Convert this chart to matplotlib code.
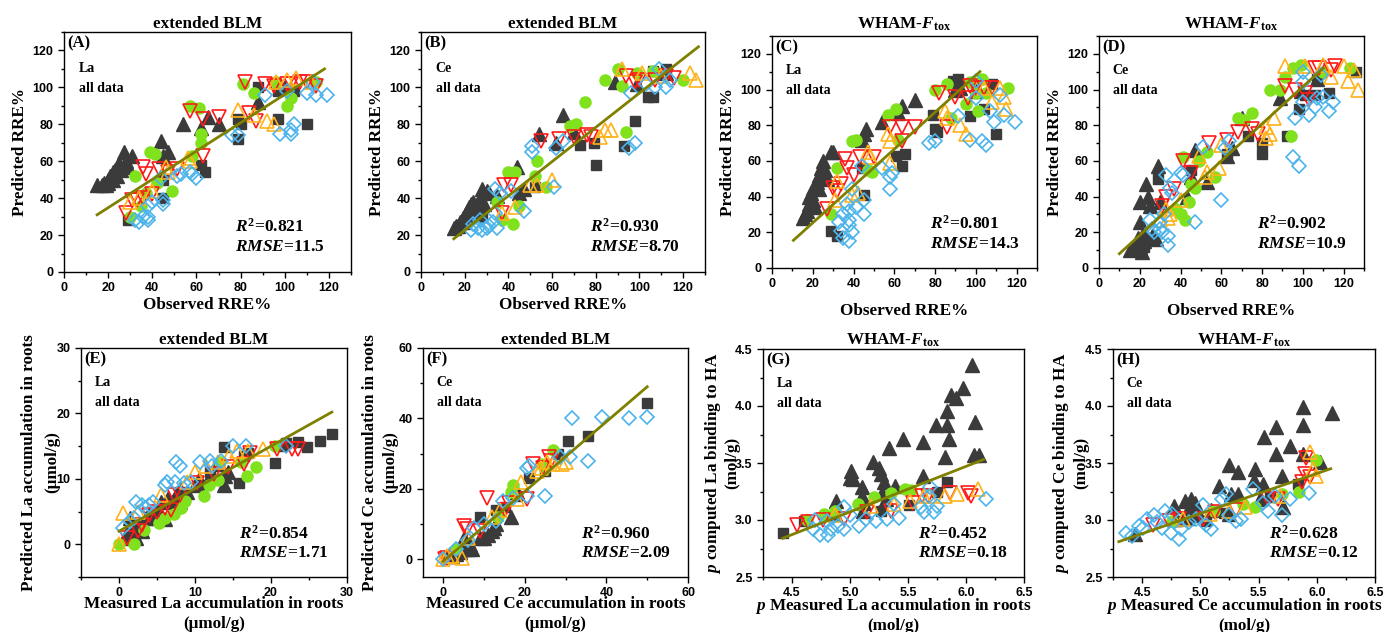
import matplotlib
matplotlib.use("Agg")
import matplotlib.pyplot as plt
from matplotlib.ticker import MultipleLocator

plt.rcParams['font.family'] = 'Liberation Sans'
plt.rcParams['font.weight'] = 'bold'
plt.rcParams['mathtext.fontset'] = 'custom'
plt.rcParams['mathtext.rm'] = 'Liberation Serif:bold'
plt.rcParams['mathtext.it'] = 'Liberation Serif:italic:bold'
plt.rcParams['mathtext.bf'] = 'Liberation Serif:bold'

SERIF = 'Liberation Serif'

# ---- (A) La, extended BLM, RRE% ----
a_sq = [(29, 28), (45, 50), (45, 40), (62, 58), (64, 54), (79, 83), (80, 80), (79, 72), (97, 83),
        (110, 80), (88, 100), (97, 98), (104, 98), (101, 99)]
a_tri = [(15, 47), (17, 47), (18, 48), (19, 47), (20, 50), (21, 52), (22, 54), (23, 55), (24, 57),
         (25, 59), (27, 65), (28, 60), (29, 57), (31, 63), (26, 55), (22, 50), (24, 52), (20, 48),
         (44, 71), (45, 63), (47, 65), (54, 80), (62, 78), (65, 84), (70, 80), (88, 92), (100, 100)]
a_circ = [(30, 30), (32, 52), (35, 36), (39, 65), (41, 64), (42, 48), (49, 44), (57, 90), (61, 89),
          (62, 75), (62, 70), (58, 63), (81, 102), (86, 97), (96, 103), (101, 90), (103, 94),
          (114, 103), (37, 43)]
a_down = [(28, 32), (31, 39), (33, 39), (36, 40), (36, 57), (37, 53), (40, 42), (43, 56), (47, 54),
          (51, 56), (57, 87), (63, 63), (63, 83), (70, 84), (82, 103), (84, 86), (87, 82), (91, 102),
          (95, 101), (101, 102), (103, 102), (107, 103), (110, 103), (114, 101)]
a_up = [(30, 38), (34, 40), (40, 44), (46, 57), (47, 54), (56, 62), (57, 60), (79, 88), (86, 85),
        (92, 82), (95, 80), (96, 103), (101, 104), (105, 105), (112, 103)]
a_dia = [(32, 28), (34, 27), (36, 30), (38, 30), (38, 28), (38, 36), (40, 38), (44, 51), (45, 37),
         (45, 39), (51, 52), (53, 53), (57, 54), (58, 53), (60, 51), (76, 74), (79, 74), (91, 96),
         (98, 75), (101, 98), (103, 77), (104, 80), (103, 75), (110, 97), (113, 103), (114, 96),
         (119, 96)]
a_fit = [(15, 31), (118, 110)]

# ---- (B) Ce, extended BLM, RRE% ----
b_sq = [(20, 26), (28, 30), (52, 46), (73, 69), (80, 58), (79, 70), (93, 68), (98, 82), (104, 95),
        (106, 95), (106, 109), (112, 110)]
b_tri = [(15, 24), (16, 25), (17, 25), (18, 27), (19, 29), (20, 31), (21, 33), (22, 35), (23, 37),
         (24, 38), (25, 34), (26, 32), (27, 40), (28, 45), (29, 37), (30, 44), (31, 43), (35, 41),
         (44, 57), (45, 43), (47, 45), (54, 75), (62, 70), (65, 85), (70, 76), (89, 103), (99, 102),
         (112, 108)]
b_circ = [(35, 38), (37, 28), (40, 54), (42, 26), (43, 54), (45, 36), (52, 52), (53, 60), (57, 46),
          (68, 79), (71, 80), (75, 92), (84, 104), (90, 110), (94, 76), (92, 101), (99, 108),
          (106, 109), (120, 104)]
b_down = [(37, 32), (38, 47), (41, 47), (55, 71), (63, 72), (70, 73), (76, 74), (78, 73), (94, 106),
          (98, 103), (100, 104), (107, 104), (112, 106), (116, 105)]
b_up = [(37, 32), (43, 35), (50, 47), (53, 47), (60, 50), (82, 73), (84, 77), (87, 77), (92, 110),
        (101, 108), (110, 106), (123, 108), (126, 104)]
b_dia = [(23, 23), (24, 26), (26, 24), (27, 28), (28, 23), (30, 24), (31, 25), (33, 27), (34, 32),
         (35, 24), (34, 45), (36, 43), (41, 44), (47, 33), (51, 68), (51, 65), (61, 46), (62, 67),
         (65, 71), (95, 67), (98, 70), (96, 97), (103, 102), (109, 110), (107, 100), (112, 100),
         (114, 104)]
b_fit = [(15, 18), (127, 122)]

# ---- (C) La, WHAM-Ftox, RRE% ----
c_sq = [(29, 21), (32, 18), (45, 41), (44, 56), (61, 63), (65, 64), (64, 57), (79, 86), (80, 78),
        (81, 76), (89, 105), (91, 106), (97, 85), (104, 89), (108, 103), (110, 75)]
c_tri = [(15, 28), (16, 30), (17, 32), (18, 36), (18, 40), (19, 42), (20, 38), (20, 45), (21, 34),
         (22, 48), (23, 52), (23, 44), (24, 56), (25, 60), (26, 55), (27, 50), (29, 65), (30, 65),
         (44, 72), (45, 75), (46, 78), (54, 82), (62, 87), (64, 91), (70, 94), (90, 100), (92, 101),
         (100, 99)]
c_circ = [(29, 30), (32, 56), (39, 71), (41, 72), (47, 55), (49, 54), (57, 86), (61, 89), (62, 72),
          (80, 100), (86, 103), (88, 84), (95, 92), (97, 104), (101, 88), (103, 106), (105, 98),
          (116, 101), (100, 98)]
c_down = [(27, 33), (30, 45), (32, 43), (34, 47), (36, 61), (37, 56), (40, 52), (43, 62), (50, 62),
          (58, 79), (64, 71), (64, 79), (70, 79), (82, 98), (86, 79), (90, 96), (96, 95), (97, 102),
          (100, 101), (104, 101), (108, 101)]
c_up = [(31, 38), (32, 49), (39, 41), (42, 42), (47, 65), (48, 62), (57, 75), (58, 71), (58, 59),
        (85, 88), (86, 84), (92, 80), (95, 75), (104, 101), (108, 93), (112, 101), (114, 96),
        (115, 89)]
c_dia = [(33, 26), (34, 21), (35, 17), (35, 30), (37, 36), (38, 15), (38, 24), (38, 27), (38, 32),
         (39, 44), (39, 20), (41, 34), (44, 57), (45, 38), (45, 30), (54, 56), (58, 44), (58, 51),
         (59, 53), (77, 70), (80, 71), (91, 85), (97, 72), (100, 105), (100, 95), (103, 71),
         (105, 69), (107, 88), (109, 82), (112, 97), (114, 86), (119, 82)]
c_fit = [(10.5, 15.5), (102, 110)]

# ---- (D) Ce, WHAM-Ftox, RRE% ----
d_sq = [(22, 12), (29, 50), (45, 55), (63, 64), (73, 74), (80, 70), (80, 64), (92, 74), (98, 89),
        (101, 97), (106, 97), (107, 106), (113, 98), (126, 110)]
d_tri = [(15, 10), (17, 11), (18, 14), (19, 17), (20, 12), (20, 26), (20, 37), (21, 9), (22, 20),
         (22, 15), (23, 47), (24, 40), (25, 35), (26, 18), (27, 17), (28, 16), (29, 57), (30, 37),
         (43, 40), (45, 51), (47, 66), (53, 48), (63, 63), (65, 67), (70, 84), (89, 95), (99, 99),
         (107, 106)]
d_circ = [(38, 33), (40, 30), (42, 27), (41, 62), (44, 37), (45, 47), (47, 45), (49, 60), (53, 65),
          (57, 51), (68, 84), (71, 83), (75, 87), (84, 100), (89, 100), (91, 107), (94, 74),
          (95, 112), (99, 114), (110, 110), (123, 112)]
d_down = [(31, 35), (33, 40), (37, 44), (41, 60), (45, 53), (54, 70), (63, 72), (68, 76), (75, 78),
          (78, 75), (91, 102), (96, 100), (103, 94), (106, 112), (108, 112), (114, 111), (116, 113),
          (101, 98)]
d_up = [(30, 27), (33, 33), (34, 28), (35, 30), (40, 38), (49, 63), (52, 51), (53, 54), (59, 56),
        (60, 69), (82, 79), (82, 73), (84, 75), (86, 84), (91, 113), (110, 114), (114, 107),
        (120, 113), (122, 105), (125, 111), (127, 100), (101, 113)]
d_dia = [(25, 27), (26, 22), (27, 20), (30, 26), (30, 22), (31, 20), (32, 30), (33, 52), (34, 18),
         (34, 13), (35, 45), (36, 42), (40, 53), (41, 52), (47, 26), (51, 68), (60, 38), (62, 67),
         (64, 71), (95, 62), (96, 84), (98, 57), (100, 110), (100, 104), (100, 93), (103, 86),
         (106, 90), (107, 95), (110, 96), (109, 108), (113, 88), (115, 93)]
d_fit = [(10, 8), (110, 112)]

# ---- (E) La accumulation, extended BLM ----
e_sq = [(2.5, 2), (10.5, 9), (12, 11), (13, 12), (13.8, 14.8), (15.8, 9.3), (16.5, 13.5), (17, 14),
        (20.5, 12.4), (21.5, 15), (22, 15.5), (23.5, 15.7), (24.7, 14.8), (26.5, 15.8), (28, 16.8),
        (5, 5), (8, 8)]
e_tri = [(1, 1), (1.2, 2), (1.5, 4), (1.7, 1.5), (2, 2), (2.3, 1), (2.5, 3), (3, 2), (4, 4.5),
         (5, 4), (5.5, 6.5), (6, 3.8), (6.5, 7), (7, 6.5), (7.5, 7.5), (8, 8.5), (8, 6.5), (9, 8),
         (10, 9), (10.5, 10), (12, 10.5), (13.8, 9), (14, 10.5), (14.3, 11), (5.5, 4.5), (4.5, 4.2),
         (3.5, 4)]
e_circ = [(0, 0), (2, 0), (3.3, 2.2), (5.3, 3.2), (6, 4), (7.3, 4.6), (8.2, 5.6), (8.7, 6.6),
          (11.2, 7.4), (11.8, 9), (13, 9.8), (13.3, 12.5), (16, 12.5), (16.8, 10.5), (18, 11.8),
          (20.5, 15)]
e_down = [(1, 1), (2.5, 2), (3, 3), (4, 4.5), (5, 5), (6, 5.5), (6.9, 5.2), (7.3, 7.5), (8, 7.5),
          (10.3, 9.3), (12.5, 10.7), (14.3, 11.8), (16.5, 12.2), (17.3, 14), (20.8, 14.5),
          (22.8, 14.5), (23.5, 14.5)]
e_up = [(0, 0), (0.5, 4.8), (2.5, 5), (5.5, 7.5), (9, 9.5), (10, 11), (11.5, 12), (13, 12.5),
        (14.5, 13.5), (15.5, 14.3), (17, 14.3), (19, 14.5)]
e_dia = [(0.5, 2.5), (2, 4), (2.3, 6.5), (3, 6), (4, 6), (4.5, 6.5), (6, 9), (6.3, 9.5), (7.4, 9.5),
         (7.5, 12.5), (8, 12), (9.5, 9.5), (10.7, 12.5), (12, 12.8), (12.3, 12), (13.4, 12.7),
         (15, 15), (16.7, 15), (22, 15), (3.5, 5.5), (1.5, 3.5), (8.5, 9.3)]
e_fit = [(0, 2), (28, 20.2)]

# ---- (F) Ce accumulation, extended BLM ----
f_sq = [(1, 1), (3, 2), (9, 12), (13, 14), (15, 15), (18, 18), (21, 23), (28, 30), (30.5, 33.5),
        (35.5, 35), (50, 44.5), (25, 25)]
f_tri = [(1, 1), (1.5, 1.5), (2, 1), (2.5, 2), (3, 1.5), (4, 2), (5, 3), (5, 6), (6, 3), (7, 3),
         (9, 6), (10, 6), (11, 7), (12, 8), (12.5, 9), (13, 10), (16.5, 12), (18, 19), (3.5, 2.5),
         (6.5, 4)]
f_circ = [(3, 3), (13.5, 12), (16.5, 19), (17, 21), (24, 27), (25, 26), (27, 31)]
f_down = [(0.5, 0), (1, 0.5), (5, 9.5), (5.8, 8.5), (9, 8), (10.8, 17.5), (15, 14), (16, 16),
          (20.5, 17), (22, 27), (24.5, 26), (26, 29), (26.5, 28)]
f_up = [(0, 0), (1, 1), (2, 1), (4.5, 0.5), (6, 6), (12, 12), (14, 14), (18, 17), (19, 22), (23, 25),
        (24, 26), (27, 27), (29, 27), (30, 27.5), (25.5, 27.5)]
f_dia = [(0, 0), (3, 3), (6, 5.5), (7.5, 9), (10, 10), (13, 11), (14.5, 16.5), (17, 17.5),
         (20.5, 18), (20.5, 26), (25, 18), (28.5, 29), (31, 29), (31.5, 40), (35.5, 28), (39, 40.5),
         (45.5, 40), (50, 40.5), (21, 26.5)]
f_fit = [(0, -0.5), (50, 49)]

# ---- (G) pLa, WHAM-Ftox ----
g_sq = [(4.42, 2.89), (4.6, 2.99), (5.27, 3.08), (5.51, 3.13), (5.75, 3.25), (5.84, 3.33)]
g_tri = [(4.88, 3.17), (4.87, 3.05), (5.01, 3.43), (5.0, 3.37), (5.03, 3.36), (5.1, 3.29),
         (5.1, 3.21), (5.12, 3.15), (5.11, 3.08), (5.2, 3.51), (5.25, 3.46), (5.27, 3.4),
         (5.29, 3.33), (5.28, 3.24), (5.34, 3.63), (5.39, 3.3), (5.46, 3.71), (5.63, 3.68),
         (5.63, 3.39), (5.74, 3.83), (5.84, 3.83), (5.84, 3.96), (5.85, 3.71), (5.82, 3.55),
         (5.87, 4.1), (5.91, 4.07), (5.97, 4.16), (6.05, 4.36), (6.08, 3.86), (6.07, 3.57),
         (6.11, 3.57), (5.31, 3.18)]
g_circ = [(4.63, 3.0), (4.78, 3.05), (4.87, 3.08), (5.07, 3.14), (5.21, 3.2), (5.35, 3.24),
          (5.47, 3.27), (5.53, 3.26)]
g_down = [(4.54, 2.96), (4.64, 2.98), (4.77, 3.0), (4.95, 3.01), (5.15, 3.07), (5.35, 3.08),
          (5.54, 3.15), (5.62, 3.21), (5.67, 3.21), (5.86, 3.24), (6.02, 3.24), (6.04, 3.21)]
g_up = [(4.87, 3.04), (5.18, 3.12), (5.38, 3.14), (5.52, 3.17), (5.64, 3.21), (5.69, 3.21),
        (5.82, 3.21), (5.92, 3.23), (6.1, 3.27)]
g_dia = [(4.7, 3.0), (4.68, 2.92), (4.74, 2.87), (4.81, 2.87), (4.84, 2.92), (4.8, 2.99),
         (4.9, 2.95), (4.95, 2.92), (4.95, 3.11), (5.0, 3.04), (5.08, 2.95), (5.14, 3.01),
         (5.22, 2.99), (5.32, 3.01), (5.38, 3.14), (5.42, 3.02), (5.61, 3.11), (5.64, 3.07),
         (5.68, 3.21), (5.69, 3.29), (5.75, 3.12), (5.72, 3.07), (6.17, 3.18)]
g_fit = [(4.42, 2.84), (6.15, 3.53)]

# ---- (H) pCe, WHAM-Ftox ----
h_sq = [(4.79, 2.99), (4.9, 3.0), (5.05, 2.99), (5.2, 3.06), (5.6, 3.2), (5.84, 3.32)]
h_tri = [(4.44, 2.88), (4.77, 3.12), (4.79, 3.01), (4.87, 3.17), (4.92, 3.18), (4.95, 3.15),
         (4.89, 3.09), (4.96, 3.09), (4.99, 3.04), (5.09, 3.09), (5.16, 3.3), (5.25, 3.48),
         (5.26, 3.23), (5.32, 3.42), (5.32, 3.23), (5.25, 3.05), (5.47, 3.45), (5.46, 3.35),
         (5.54, 3.32), (5.55, 3.73), (5.65, 3.82), (5.65, 3.58), (5.7, 3.39), (5.71, 3.11),
         (5.77, 3.65), (5.88, 3.99), (5.88, 3.83), (5.88, 3.58), (6.03, 3.51), (6.13, 3.94),
         (5.51, 3.18)]
h_circ = [(4.76, 2.99), (5.12, 3.08), (5.37, 3.14), (5.47, 3.11), (5.7, 3.23), (5.85, 3.25),
          (5.99, 3.53)]
h_down = [(4.59, 2.96), (4.73, 2.99), (4.82, 3.01), (5.02, 3.01), (5.13, 3.07), (5.31, 3.09),
          (5.58, 3.18), (5.67, 3.18), (5.87, 3.33), (5.9, 3.4), (5.94, 3.38), (5.91, 3.54)]
h_up = [(4.85, 3.01), (5.08, 3.05), (5.25, 3.08), (5.38, 3.11), (5.68, 3.21), (5.94, 3.6),
        (5.97, 3.45), (5.99, 3.39)]
h_dia = [(4.36, 2.89), (4.41, 2.86), (4.47, 2.95), (4.51, 2.93), (4.54, 3.01), (4.6, 3.04),
         (4.63, 2.98), (4.67, 2.93), (4.75, 2.89), (4.76, 3.05), (4.7, 3.08), (4.82, 2.83),
         (4.83, 2.92), (4.9, 2.98), (4.96, 3.01), (5.02, 3.13), (5.05, 2.96), (5.09, 2.92),
         (5.19, 3.18), (5.22, 3.23), (5.25, 3.04), (5.31, 2.99), (5.35, 3.01), (5.45, 3.27),
         (5.54, 3.15), (5.58, 3.08), (5.64, 3.21), (5.7, 3.04), (5.77, 3.18), (5.93, 3.24)]
h_fit = [(4.3, 2.81), (6.12, 3.45)]

stats = {'A': ('0.821', '11.5'), 'B': ('0.930', '8.70'), 'C': ('0.801', '14.3'), 'D': ('0.902', '10.9'),
         'E': ('0.854', '1.71'), 'F': ('0.960', '2.09'), 'G': ('0.452', '0.18'), 'H': ('0.628', '0.12')}

# marker look for the six series, same order in every panel
DARK = '#3b3b3b'
markers = [
    dict(marker='s', color=DARK, ms=7.5, ls='none'),
    dict(marker='^', color=DARK, ms=9.5, ls='none'),
    dict(marker='o', color='#7fe21c', ms=8, ls='none'),
    dict(marker='v', mec='#ff1a1a', mfc='none', mew=1.2, ms=9.5, ls='none'),
    dict(marker='^', mec='#ffb21a', mfc='none', mew=1.2, ms=9.5, ls='none'),
    dict(marker='D', mec='#4cb4ea', mfc='none', mew=1.2, ms=7, ls='none'),
]

W, H = 1385, 632


def px_box(l, r, t, b):
    return [l / W, (H - b) / H, (r - l) / W, (b - t) / H]


wham = 'WHAM-$F_{\\mathrm{tox}}$'
panels = [
    ('A', 'La', px_box(64, 351, 32, 272), (0, 130), (0, 130), 'extended BLM',
     'Observed RRE%', 'Predicted RRE%', [a_sq, a_tri, a_circ, a_down, a_up, a_dia], a_fit),
    ('B', 'Ce', px_box(421, 705, 32, 272), (0, 130), (0, 130), 'extended BLM',
     'Observed RRE%', 'Predicted RRE%', [b_sq, b_tri, b_circ, b_down, b_up, b_dia], b_fit),
    ('C', 'La', px_box(772, 1037, 36, 268), (0, 130), (0, 130), wham,
     'Observed RRE%', 'Predicted RRE%', [c_sq, c_tri, c_circ, c_down, c_up, c_dia], c_fit),
    ('D', 'Ce', px_box(1099, 1364, 36, 268), (0, 130), (0, 130), wham,
     'Observed RRE%', 'Predicted RRE%', [d_sq, d_tri, d_circ, d_down, d_up, d_dia], d_fit),
    ('E', 'La', px_box(81, 347, 348, 577), (-5, 30), (-5, 30), 'extended BLM',
     'Measured La accumulation in roots\n(\u03bcmol/g)',
     'Predicted La accumulation in roots\n(\u03bcmol/g)',
     [e_sq, e_tri, e_circ, e_down, e_up, e_dia], e_fit),
    ('F', 'Ce', px_box(423, 688, 348, 577), (-5, 60), (-5, 60), 'extended BLM',
     'Measured Ce accumulation in roots\n(\u03bcmol/g)',
     'Predicted Ce accumulation in roots\n(\u03bcmol/g)',
     [f_sq, f_tri, f_circ, f_down, f_up, f_dia], f_fit),
    ('G', 'La', px_box(763, 1024, 349, 577), (4.25, 6.5), (2.5, 4.5), wham,
     '$p$ Measured La accumulation in roots\n(mol/g)',
     '$p$ computed La binding to HA\n(mol/g)',
     [g_sq, g_tri, g_circ, g_down, g_up, g_dia], g_fit),
    ('H', 'Ce', px_box(1113, 1375, 349, 577), (4.25, 6.5), (2.5, 4.5), wham,
     '$p$ Measured Ce accumulation in roots\n(mol/g)',
     '$p$ computed Ce binding to HA\n(mol/g)',
     [h_sq, h_tri, h_circ, h_down, h_up, h_dia], h_fit),
]

# tick positions (major x, major y, minor x step, minor y step)
ticks = {
    'RRE': ([0, 20, 40, 60, 80, 100, 120], [0, 20, 40, 60, 80, 100, 120], 10, 10),
    'E': ([0, 10, 20, 30], [0, 10, 20, 30], 5, 5),
    'F': ([0, 20, 40, 60], [0, 20, 40, 60], 10, 10),
    'p': ([4.5, 5.0, 5.5, 6.0, 6.5], [2.5, 3.0, 3.5, 4.0, 4.5], 0.25, 0.25),
}
# label placement: title pad, xlabel (pad or y-coord), ylabel (pad or x-coord), line spacings
layout = {
    'A': dict(tpad=1.5, xpad=2, ypad=3),
    'B': dict(tpad=1.5, xpad=2, ypad=3),
    'C': dict(tpad=5.5, xpad=9, ypad=3),
    'D': dict(tpad=5.5, xpad=9, ypad=3),
    'E': dict(tpad=1.5, xy=-0.085, yx=-0.078, xls=1.3, yls=1.62),
    'F': dict(tpad=1.5, xy=-0.085, yx=-0.094, xls=1.3, yls=1.38),
    'G': dict(tpad=3, xy=-0.085, yx=-0.086, xls=1.1, yls=1.1),
    'H': dict(tpad=3, xy=-0.085, yx=-0.09, xls=1.1, yls=1.2),
}

fig = plt.figure(figsize=(W / 100, H / 100), dpi=100)

for tag, elem, box, xlim, ylim, title, xlab, ylab, series, fit in panels:
    ax = fig.add_axes(box)
    for pts, style in zip(series, markers):
        ax.plot([p[0] for p in pts], [p[1] for p in pts], **style)
    ax.plot([fit[0][0], fit[1][0]], [fit[0][1], fit[1][1]], color='#808000', lw=2)

    key = 'RRE' if tag in 'ABCD' else ('p' if tag in 'GH' else tag)
    xt, yt, xm, ym = ticks[key]
    ax.set_xticks(xt)
    ax.set_yticks(yt)
    ax.xaxis.set_minor_locator(MultipleLocator(xm))
    ax.yaxis.set_minor_locator(MultipleLocator(ym))
    ax.set_xlim(*xlim)
    ax.set_ylim(*ylim)
    ax.tick_params(which='major', direction='out', length=4, width=1, labelsize=9)
    ax.tick_params(which='minor', direction='out', length=2.5, width=1)
    for sp in ax.spines.values():
        sp.set_linewidth(1)

    lay = layout[tag]
    ax.set_title(title, family=SERIF, fontsize=12.3, fontweight='bold', pad=lay['tpad'])
    ax.text(0.013, 0.952, '(%s)' % tag, transform=ax.transAxes, family=SERIF, fontsize=12,
            fontweight='bold', ha='left', va='center')
    ax.text(0.052, 0.85, elem, transform=ax.transAxes, family=SERIF, fontsize=10,
            fontweight='bold', ha='left', va='center')
    ax.text(0.052, 0.763, 'all data', transform=ax.transAxes, family=SERIF, fontsize=10,
            fontweight='bold', ha='left', va='center')
    r2, rmse = stats[tag]
    ax.text(0.595, 0.19, '$R^{2}$=' + r2, transform=ax.transAxes, family=SERIF,
            fontsize=12.5, fontweight='bold', ha='left', va='center')
    ax.text(0.595, 0.105, '$RMSE$=' + rmse, transform=ax.transAxes, family=SERIF,
            fontsize=12.5, fontweight='bold', ha='left', va='center')

    if tag in 'ABCD':
        ax.set_xlabel(xlab, family=SERIF, fontsize=12.3, fontweight='bold', labelpad=lay['xpad'])
        ax.set_ylabel(ylab, family=SERIF, fontsize=12.3, fontweight='bold', labelpad=lay['ypad'])
    else:
        ax.set_xlabel(xlab, family=SERIF, fontsize=12.3, fontweight='bold',
                      linespacing=lay['xls'], va='top')
        ax.xaxis.set_label_coords(0.5, lay['xy'])
        ax.set_ylabel(ylab, family=SERIF, fontsize=12.3, fontweight='bold',
                      linespacing=lay['yls'], va='bottom')
        ax.yaxis.set_label_coords(lay['yx'], 0.5)

fig.savefig('out.png', dpi=100)
